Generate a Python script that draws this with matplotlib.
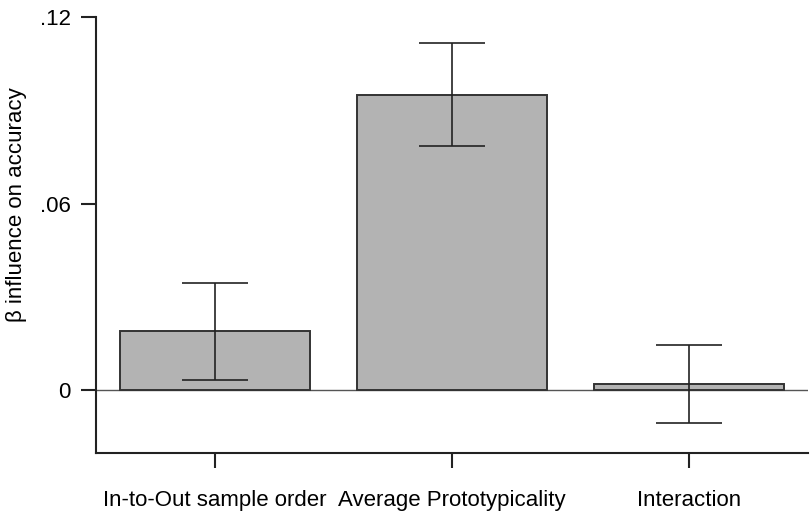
import matplotlib.pyplot as plt

# values
labels = ['In-to-Out sample order', 'Average Prototypicality', 'Interaction']
betas = [0.0192, 0.0949, 0.0020]
err_lo = [0.0034, 0.0786, -0.0106]
err_hi = [0.0346, 0.1114, 0.0146]
yticks = [0, 0.06, 0.12]
yticklabels = ['0', '.06', '.12']

plt.rcParams['font.family'] = ['Liberation Sans', 'DejaVu Sans']

fig = plt.figure(figsize=(8.1, 5.14), dpi=100)
ax = fig.add_axes([0.1185, 0.1193, 0.879, 0.8482])

x = list(range(len(labels)))
yerr = [[b - lo for b, lo in zip(betas, err_lo)], [hi - b for b, hi in zip(betas, err_hi)]]
ax.axhline(0, color='#555555', lw=1.0, zorder=1)
ax.bar(x, betas, width=0.8, color='#b3b3b3', edgecolor='#333333', linewidth=1.4, zorder=2)
ax.errorbar(x, betas, yerr=yerr, fmt='none', ecolor='#222222', elinewidth=1.2,
            capsize=24, capthick=1.2, zorder=3)

ax.set_xlim(-0.5, 2.5)
ax.set_ylim(-0.02, 0.12)
ax.set_xticks(x)
ax.set_xticklabels(labels, fontsize=16)
ax.set_yticks(yticks)
ax.set_yticklabels(yticklabels, fontsize=16)
ax.tick_params(axis='both', length=11, width=1.5, color='#222222', pad=7)
ax.tick_params(axis='x', pad=16)

for side in ['top', 'right']:
    ax.spines[side].set_visible(False)
for side in ['left', 'bottom']:
    ax.spines[side].set_linewidth(1.5)
    ax.spines[side].set_color('#222222')

ax.set_ylabel('β influence on accuracy', fontsize=16)
ax.yaxis.set_label_coords(-0.097, 0.568)

plt.savefig('out.png', dpi=100)
